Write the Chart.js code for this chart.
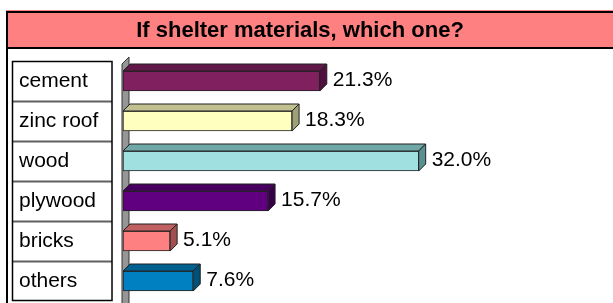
<!DOCTYPE html>
<html>
<head>
<meta charset="utf-8">
<script src="https://cdn.jsdelivr.net/npm/chart.js@4.4.1/dist/chart.umd.min.js"></script>
<style>
  html, body { margin: 0; padding: 0; background: #fff; }
  canvas { display: block; }
</style>
</head>
<body>
<canvas id="shelterChart" width="613" height="303"></canvas>
<script>
const chartTitle = 'If shelter materials, which one?';
const categories = ['cement', 'zinc roof', 'wood', 'plywood', 'bricks', 'others'];
const shares = [21.3, 18.3, 32.0, 15.7, 5.1, 7.6];
const frontColors = ['#80205f', '#ffffc0', '#a0e0e0', '#600080', '#ff8080', '#0080c0'];
const topColors = ['#601848', '#c0c090', '#70a8a8', '#480060', '#c06060', '#006090'];
const sideColors = ['#501040', '#a0a078', '#5a9090', '#380048', '#a05050', '#005078'];

const DEPTH = 7;
const FONT = 'Arial, "Liberation Sans", sans-serif';

// рамка, розовая плашка заголовка, таблица подписей и стенка оси
const framePlugin = {
    id: 'frame',
    beforeDraw(chart) {
        const ctx = chart.ctx;
        const area = chart.chartArea;
        const y = chart.scales.y;
        ctx.save();
        ctx.fillStyle = '#fff';
        ctx.fillRect(0, 0, chart.width, chart.height);

        // заголовок
        ctx.fillStyle = '#ff8080';
        ctx.fillRect(6, 10, chart.width - 6, 39);
        ctx.strokeStyle = '#000';
        ctx.lineWidth = 2;
        ctx.beginPath();
        ctx.moveTo(7, 12); ctx.lineTo(chart.width, 12);
        ctx.moveTo(7, 48); ctx.lineTo(chart.width, 48);
        ctx.moveTo(7, 11); ctx.lineTo(7, chart.height);
        ctx.stroke();

        ctx.fillStyle = '#000';
        ctx.font = 'bold 22px ' + FONT;
        ctx.textAlign = 'center';
        ctx.textBaseline = 'middle';
        ctx.fillText(chartTitle, 300, 31);

        // таблица категорий
        const rowH = (area.bottom - area.top) / categories.length;
        ctx.fillStyle = '#fff';
        ctx.fillRect(12, area.top, 100, area.bottom - area.top);
        ctx.lineWidth = 2;
        ctx.strokeStyle = '#606060';
        for (let i = 1; i < categories.length; i++) {
            const ly = Math.round(area.top + rowH * i) + 0.5;
            ctx.beginPath();
            ctx.moveTo(12, ly); ctx.lineTo(112, ly);
            ctx.stroke();
        }
        ctx.lineWidth = 1.5;
        ctx.strokeStyle = '#000';
        ctx.strokeRect(12.5, area.top + 0.5, 99.5, area.bottom - area.top - 1);

        ctx.fillStyle = '#000';
        ctx.font = '21px ' + FONT;
        ctx.textBaseline = 'middle';
        ctx.textAlign = 'left';
        categories.forEach((c, i) => {
            ctx.fillText(c, 19, y.getPixelForValue(i));
        });

        // боковая стенка
        const x0 = chart.scales.x.getPixelForValue(0) - 1;
        ctx.fillStyle = '#969696';
        ctx.strokeStyle = '#333';
        ctx.lineWidth = 1;
        ctx.beginPath();
        ctx.moveTo(x0, area.top + 3);
        ctx.lineTo(x0 + DEPTH, area.top + 3 - DEPTH);
        ctx.lineTo(x0 + DEPTH, chart.height + 5);
        ctx.lineTo(x0, chart.height + 5);
        ctx.closePath();
        ctx.fill();
        ctx.stroke();
        ctx.restore();
    }
};

// объёмные грани столбиков и подписи значений
const bar3dPlugin = {
    id: 'bar3d',
    afterDatasetsDraw(chart) {
        const ctx = chart.ctx;
        const meta = chart.getDatasetMeta(0);
        ctx.save();
        ctx.lineWidth = 1;
        ctx.strokeStyle = '#222';
        meta.data.forEach((bar, i) => {
            const p = bar.getProps(['x', 'y', 'base', 'height'], true);
            const top = p.y - p.height / 2;
            const bottom = p.y + p.height / 2;
            // верх
            ctx.fillStyle = topColors[i];
            ctx.beginPath();
            ctx.moveTo(p.base, top);
            ctx.lineTo(p.base + DEPTH, top - DEPTH);
            ctx.lineTo(p.x + DEPTH, top - DEPTH);
            ctx.lineTo(p.x, top);
            ctx.closePath();
            ctx.fill();
            ctx.stroke();
            // бок
            ctx.fillStyle = sideColors[i];
            ctx.beginPath();
            ctx.moveTo(p.x, top);
            ctx.lineTo(p.x + DEPTH, top - DEPTH);
            ctx.lineTo(p.x + DEPTH, bottom - DEPTH);
            ctx.lineTo(p.x, bottom);
            ctx.closePath();
            ctx.fill();
            ctx.stroke();

            ctx.fillStyle = '#000';
            ctx.font = '21px ' + FONT;
            ctx.textBaseline = 'middle';
            ctx.textAlign = 'left';
            ctx.fillText(shares[i].toFixed(1) + '%', p.x + DEPTH + 6, p.y - 1);
        });
        ctx.restore();
    }
};

const ctx = document.getElementById('shelterChart').getContext('2d');
new Chart(ctx, {
    type: 'bar',
    data: {
        labels: categories,
        datasets: [{
            data: shares,
            backgroundColor: frontColors,
            borderColor: '#222',
            borderWidth: 1,
            borderSkipped: false,
            barThickness: 20
        }]
    },
    options: {
        indexAxis: 'y',
        responsive: false,
        animation: false,
        devicePixelRatio: 1,
        layout: { padding: { left: 123, right: 28, top: 61, bottom: 2 } },
        scales: {
            x: { display: false, min: 0, max: 50 },
            y: { display: false, offset: true }
        },
        plugins: {
            legend: { display: false },
            tooltip: { enabled: false },
            title: { display: false }
        }
    },
    plugins: [framePlugin, bar3dPlugin]
});
</script>
</body>
</html>
